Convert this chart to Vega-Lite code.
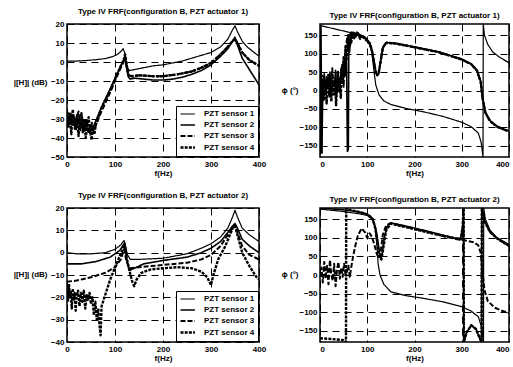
{
"$schema": "https://vega.github.io/schema/vega-lite/v6.json",
"background": "white",
"padding": {"left": 12, "top": 7, "right": 4, "bottom": 4},
"config": {
 "font": "Liberation Sans",
 "view": {"stroke": "black", "strokeWidth": 1.5},
 "axis": {"labelFont": "Liberation Sans", "labelFontSize": 8, "labelFontWeight": "bold", "labelColor": "black", "titleFont": "Liberation Sans", "titleFontSize": 8, "titleFontWeight": "bold", "titleColor": "black", "domain": false, "ticks": false, "grid": true, "gridColor": "black", "gridDash": [7, 5], "gridOpacity": 1, "gridWidth": 1, "labelPadding": 3, "labelOverlap": false, "labelFlush": false},
 "legend": {"orient": "bottom-right", "title": null, "offset": 1, "strokeColor": "black", "fillColor": "white", "padding": 3, "labelFont": "Liberation Sans", "labelFontSize": 8, "labelFontWeight": "bold", "labelColor": "black", "symbolSize": 64, "symbolStrokeColor": "black", "rowPadding": 2, "labelOffset": 14},
 "title": {"font": "Liberation Sans", "fontSize": 8, "fontWeight": "bold", "color": "black", "offset": 4, "frame": "group", "anchor": "middle"}
},
"datasets": {
 "tl": [
  {"s":"1","f":0,"v":0.5},{"s":"1","f":20,"v":0.5},{"s":"1","f":40,"v":0.8},{"s":"1","f":60,"v":1.2},{"s":"1","f":80,"v":1.8},{"s":"1","f":95,"v":2.8},{"s":"1","f":105,"v":4},{"s":"1","f":112,"v":5.5},{"s":"1","f":117,"v":7},{"s":"1","f":120,"v":5},{"s":"1","f":123,"v":1},{"s":"1","f":126,"v":-3},{"s":"1","f":130,"v":-4.5},{"s":"1","f":140,"v":-4},{"s":"1","f":160,"v":-3},{"s":"1","f":180,"v":-2},{"s":"1","f":200,"v":-1.5},{"s":"1","f":220,"v":-0.5},{"s":"1","f":240,"v":0.5},{"s":"1","f":260,"v":2},{"s":"1","f":280,"v":3.5},{"s":"1","f":300,"v":5},{"s":"1","f":320,"v":8},{"s":"1","f":335,"v":12},{"s":"1","f":345,"v":17},{"s":"1","f":350,"v":19},{"s":"1","f":355,"v":16},{"s":"1","f":365,"v":11},{"s":"1","f":375,"v":8},{"s":"1","f":390,"v":5},{"s":"1","f":400,"v":3},
  {"s":"2","f":0,"v":-28},{"s":"2","f":4,"v":-31},{"s":"2","f":8,"v":-27},{"s":"2","f":12,"v":-33},{"s":"2","f":16,"v":-29},{"s":"2","f":20,"v":-34},{"s":"2","f":24,"v":-30},{"s":"2","f":28,"v":-36},{"s":"2","f":32,"v":-31},{"s":"2","f":36,"v":-35},{"s":"2","f":40,"v":-32},{"s":"2","f":44,"v":-37},{"s":"2","f":48,"v":-33},{"s":"2","f":52,"v":-36},{"s":"2","f":55,"v":-34},{"s":"2","f":70,"v":-25},{"s":"2","f":90,"v":-14},{"s":"2","f":105,"v":-6},{"s":"2","f":114,"v":-1},{"s":"2","f":118,"v":1},{"s":"2","f":121,"v":2},{"s":"2","f":124,"v":-3},{"s":"2","f":128,"v":-8},{"s":"2","f":132,"v":-9},{"s":"2","f":140,"v":-8.5},{"s":"2","f":160,"v":-9},{"s":"2","f":180,"v":-9.5},{"s":"2","f":200,"v":-9.5},{"s":"2","f":220,"v":-9},{"s":"2","f":240,"v":-8},{"s":"2","f":260,"v":-6.5},{"s":"2","f":280,"v":-4.5},{"s":"2","f":300,"v":-1.5},{"s":"2","f":320,"v":3},{"s":"2","f":335,"v":7},{"s":"2","f":345,"v":11},{"s":"2","f":350,"v":13},{"s":"2","f":355,"v":9},{"s":"2","f":365,"v":2},{"s":"2","f":375,"v":-2},{"s":"2","f":390,"v":-8},{"s":"2","f":400,"v":-12},
  {"s":"3","f":0,"v":-31},{"s":"3","f":4,"v":-27},{"s":"3","f":8,"v":-33},{"s":"3","f":12,"v":-28},{"s":"3","f":16,"v":-35},{"s":"3","f":20,"v":-30},{"s":"3","f":24,"v":-26},{"s":"3","f":28,"v":-33},{"s":"3","f":32,"v":-29},{"s":"3","f":36,"v":-37},{"s":"3","f":40,"v":-30},{"s":"3","f":44,"v":-34},{"s":"3","f":48,"v":-38},{"s":"3","f":52,"v":-32},{"s":"3","f":56,"v":-36},{"s":"3","f":70,"v":-27},{"s":"3","f":90,"v":-16},{"s":"3","f":105,"v":-7},{"s":"3","f":114,"v":-2},{"s":"3","f":118,"v":0},{"s":"3","f":121,"v":3},{"s":"3","f":124,"v":-2},{"s":"3","f":128,"v":-7},{"s":"3","f":135,"v":-7.5},{"s":"3","f":150,"v":-7},{"s":"3","f":180,"v":-7.5},{"s":"3","f":200,"v":-7.5},{"s":"3","f":230,"v":-6.5},{"s":"3","f":260,"v":-5},{"s":"3","f":280,"v":-3},{"s":"3","f":300,"v":-0.5},{"s":"3","f":320,"v":4},{"s":"3","f":335,"v":8},{"s":"3","f":345,"v":11},{"s":"3","f":350,"v":12},{"s":"3","f":355,"v":10},{"s":"3","f":365,"v":5},{"s":"3","f":380,"v":1},{"s":"3","f":400,"v":-2},
  {"s":"4","f":0,"v":-26},{"s":"4","f":3,"v":-34},{"s":"4","f":6,"v":-29},{"s":"4","f":9,"v":-38},{"s":"4","f":12,"v":-25},{"s":"4","f":15,"v":-32},{"s":"4","f":18,"v":-36},{"s":"4","f":21,"v":-28},{"s":"4","f":24,"v":-39},{"s":"4","f":27,"v":-31},{"s":"4","f":30,"v":-27},{"s":"4","f":33,"v":-37},{"s":"4","f":36,"v":-30},{"s":"4","f":39,"v":-40},{"s":"4","f":42,"v":-33},{"s":"4","f":45,"v":-29},{"s":"4","f":48,"v":-36},{"s":"4","f":51,"v":-41},{"s":"4","f":54,"v":-35},{"s":"4","f":57,"v":-38},{"s":"4","f":60,"v":-33},{"s":"4","f":72,"v":-24},{"s":"4","f":90,"v":-15},{"s":"4","f":105,"v":-6},{"s":"4","f":114,"v":-1},{"s":"4","f":118,"v":1},{"s":"4","f":121,"v":4},{"s":"4","f":124,"v":-1},{"s":"4","f":128,"v":-7},{"s":"4","f":135,"v":-7.5},{"s":"4","f":150,"v":-7},{"s":"4","f":180,"v":-7.5},{"s":"4","f":200,"v":-7.5},{"s":"4","f":230,"v":-6.5},{"s":"4","f":260,"v":-5},{"s":"4","f":280,"v":-3},{"s":"4","f":300,"v":-0.5},{"s":"4","f":320,"v":4},{"s":"4","f":335,"v":8},{"s":"4","f":345,"v":11},{"s":"4","f":350,"v":12},{"s":"4","f":355,"v":10},{"s":"4","f":365,"v":5},{"s":"4","f":380,"v":1},{"s":"4","f":400,"v":-2}
 ],
 "tr": [
  {"s":"1","f":0,"v":176},{"s":"1","f":20,"v":170},{"s":"1","f":40,"v":164},{"s":"1","f":60,"v":158},{"s":"1","f":80,"v":150},{"s":"1","f":95,"v":140},{"s":"1","f":105,"v":125},{"s":"1","f":110,"v":100},{"s":"1","f":114,"v":55},{"s":"1","f":118,"v":15},{"s":"1","f":125,"v":-12},{"s":"1","f":135,"v":-28},{"s":"1","f":150,"v":-38},{"s":"1","f":180,"v":-48},{"s":"1","f":220,"v":-58},{"s":"1","f":260,"v":-70},{"s":"1","f":300,"v":-86},{"s":"1","f":320,"v":-98},{"s":"1","f":335,"v":-115},{"s":"1","f":341,"v":-140},{"s":"1","f":345,"v":-180},{"s":"1","f":345.5,"v":180},{"s":"1","f":348,"v":150},{"s":"1","f":355,"v":125},{"s":"1","f":365,"v":105},{"s":"1","f":380,"v":90},{"s":"1","f":400,"v":75},
  {"s":"2","f":0,"v":-175},{"s":"2","f":2,"v":175},{"s":"2","f":4,"v":-170},{"s":"2","f":6,"v":20},{"s":"2","f":9,"v":45},{"s":"2","f":12,"v":-10},{"s":"2","f":15,"v":30},{"s":"2","f":18,"v":5},{"s":"2","f":21,"v":50},{"s":"2","f":24,"v":-15},{"s":"2","f":27,"v":25},{"s":"2","f":30,"v":10},{"s":"2","f":33,"v":55},{"s":"2","f":36,"v":-5},{"s":"2","f":39,"v":35},{"s":"2","f":42,"v":15},{"s":"2","f":45,"v":60},{"s":"2","f":48,"v":20},{"s":"2","f":51,"v":80},{"s":"2","f":54,"v":40},{"s":"2","f":56,"v":110},{"s":"2","f":58,"v":-165},{"s":"2","f":60,"v":-160},{"s":"2","f":61,"v":140},{"s":"2","f":64,"v":120},{"s":"2","f":67,"v":155},{"s":"2","f":72,"v":140},{"s":"2","f":78,"v":158},{"s":"2","f":85,"v":150},{"s":"2","f":95,"v":145},{"s":"2","f":105,"v":130},{"s":"2","f":110,"v":110},{"s":"2","f":114,"v":80},{"s":"2","f":118,"v":50},{"s":"2","f":121,"v":40},{"s":"2","f":124,"v":45},{"s":"2","f":128,"v":75},{"s":"2","f":133,"v":115},{"s":"2","f":140,"v":130},{"s":"2","f":160,"v":128},{"s":"2","f":200,"v":118},{"s":"2","f":250,"v":105},{"s":"2","f":300,"v":85},{"s":"2","f":320,"v":72},{"s":"2","f":332,"v":55},{"s":"2","f":340,"v":25},{"s":"2","f":344,"v":-20},{"s":"2","f":350,"v":-60},{"s":"2","f":360,"v":-82},{"s":"2","f":375,"v":-97},{"s":"2","f":390,"v":-105},{"s":"2","f":400,"v":-110},
  {"s":"3","f":0,"v":170},{"s":"3","f":3,"v":-170},{"s":"3","f":5,"v":10},{"s":"3","f":8,"v":30},{"s":"3","f":11,"v":-5},{"s":"3","f":14,"v":40},{"s":"3","f":17,"v":15},{"s":"3","f":20,"v":-20},{"s":"3","f":23,"v":25},{"s":"3","f":26,"v":60},{"s":"3","f":29,"v":0},{"s":"3","f":32,"v":20},{"s":"3","f":35,"v":-10},{"s":"3","f":38,"v":45},{"s":"3","f":41,"v":5},{"s":"3","f":44,"v":30},{"s":"3","f":47,"v":70},{"s":"3","f":50,"v":10},{"s":"3","f":53,"v":100},{"s":"3","f":56,"v":130},{"s":"3","f":59,"v":150},{"s":"3","f":62,"v":100},{"s":"3","f":65,"v":160},{"s":"3","f":70,"v":145},{"s":"3","f":76,"v":155},{"s":"3","f":85,"v":148},{"s":"3","f":95,"v":143},{"s":"3","f":105,"v":128},{"s":"3","f":110,"v":108},{"s":"3","f":114,"v":78},{"s":"3","f":118,"v":50},{"s":"3","f":121,"v":42},{"s":"3","f":124,"v":46},{"s":"3","f":128,"v":77},{"s":"3","f":133,"v":116},{"s":"3","f":140,"v":129},{"s":"3","f":160,"v":127},{"s":"3","f":200,"v":117},{"s":"3","f":250,"v":104},{"s":"3","f":300,"v":84},{"s":"3","f":320,"v":71},{"s":"3","f":332,"v":54},{"s":"3","f":340,"v":24},{"s":"3","f":344,"v":-20},{"s":"3","f":350,"v":-60},{"s":"3","f":360,"v":-83},{"s":"3","f":375,"v":-98},{"s":"3","f":390,"v":-106},{"s":"3","f":400,"v":-111},
  {"s":"4","f":0,"v":15},{"s":"4","f":2,"v":-20},{"s":"4","f":4,"v":40},{"s":"4","f":6,"v":5},{"s":"4","f":8,"v":-25},{"s":"4","f":10,"v":30},{"s":"4","f":12,"v":0},{"s":"4","f":14,"v":-35},{"s":"4","f":16,"v":20},{"s":"4","f":18,"v":45},{"s":"4","f":20,"v":-10},{"s":"4","f":22,"v":15},{"s":"4","f":24,"v":-30},{"s":"4","f":26,"v":35},{"s":"4","f":28,"v":5},{"s":"4","f":30,"v":-15},{"s":"4","f":32,"v":25},{"s":"4","f":34,"v":-40},{"s":"4","f":36,"v":10},{"s":"4","f":38,"v":50},{"s":"4","f":40,"v":-5},{"s":"4","f":42,"v":20},{"s":"4","f":44,"v":-20},{"s":"4","f":46,"v":60},{"s":"4","f":48,"v":30},{"s":"4","f":50,"v":90},{"s":"4","f":52,"v":50},{"s":"4","f":54,"v":120},{"s":"4","f":56,"v":80},{"s":"4","f":58,"v":140},{"s":"4","f":60,"v":110},{"s":"4","f":63,"v":150},{"s":"4","f":66,"v":130},{"s":"4","f":70,"v":160},{"s":"4","f":75,"v":145},{"s":"4","f":80,"v":155},{"s":"4","f":85,"v":140},{"s":"4","f":90,"v":150},{"s":"4","f":95,"v":138},{"s":"4","f":100,"v":135},{"s":"4","f":105,"v":128},{"s":"4","f":110,"v":108},{"s":"4","f":114,"v":78},{"s":"4","f":118,"v":50},{"s":"4","f":121,"v":42},{"s":"4","f":124,"v":46},{"s":"4","f":128,"v":77},{"s":"4","f":133,"v":116},{"s":"4","f":140,"v":129},{"s":"4","f":160,"v":127},{"s":"4","f":200,"v":117},{"s":"4","f":250,"v":104},{"s":"4","f":300,"v":84},{"s":"4","f":320,"v":71},{"s":"4","f":332,"v":54},{"s":"4","f":340,"v":24},{"s":"4","f":344,"v":-20},{"s":"4","f":350,"v":-60},{"s":"4","f":360,"v":-83},{"s":"4","f":375,"v":-98},{"s":"4","f":390,"v":-106},{"s":"4","f":400,"v":-111}
 ],
 "bl": [
  {"s":"1","f":0,"v":0},{"s":"1","f":20,"v":-0.5},{"s":"1","f":50,"v":-0.5},{"s":"1","f":80,"v":0},{"s":"1","f":100,"v":1.5},{"s":"1","f":112,"v":3.5},{"s":"1","f":119,"v":5.5},{"s":"1","f":122,"v":3},{"s":"1","f":126,"v":-1},{"s":"1","f":132,"v":-3},{"s":"1","f":150,"v":-3},{"s":"1","f":200,"v":-2.5},{"s":"1","f":250,"v":-0.5},{"s":"1","f":280,"v":2},{"s":"1","f":300,"v":4},{"s":"1","f":320,"v":7},{"s":"1","f":335,"v":11},{"s":"1","f":345,"v":16},{"s":"1","f":350,"v":19},{"s":"1","f":355,"v":16},{"s":"1","f":365,"v":11},{"s":"1","f":380,"v":8},{"s":"1","f":400,"v":5},
  {"s":"2","f":0,"v":-5},{"s":"2","f":30,"v":-5},{"s":"2","f":60,"v":-4},{"s":"2","f":90,"v":-2},{"s":"2","f":110,"v":1},{"s":"2","f":119,"v":4},{"s":"2","f":122,"v":1},{"s":"2","f":126,"v":-5},{"s":"2","f":130,"v":-8},{"s":"2","f":140,"v":-7},{"s":"2","f":160,"v":-5},{"s":"2","f":200,"v":-3.5},{"s":"2","f":250,"v":-2},{"s":"2","f":280,"v":0},{"s":"2","f":300,"v":2},{"s":"2","f":320,"v":5},{"s":"2","f":335,"v":9},{"s":"2","f":345,"v":12},{"s":"2","f":350,"v":13},{"s":"2","f":355,"v":11},{"s":"2","f":365,"v":6},{"s":"2","f":380,"v":3},{"s":"2","f":400,"v":0},
  {"s":"3","f":0,"v":-13},{"s":"3","f":20,"v":-12.5},{"s":"3","f":50,"v":-11},{"s":"3","f":80,"v":-9},{"s":"3","f":100,"v":-6.5},{"s":"3","f":112,"v":-3},{"s":"3","f":119,"v":1.5},{"s":"3","f":123,"v":-3},{"s":"3","f":130,"v":-7},{"s":"3","f":150,"v":-6.5},{"s":"3","f":200,"v":-5.5},{"s":"3","f":250,"v":-4.5},{"s":"3","f":280,"v":-3},{"s":"3","f":300,"v":-1},{"s":"3","f":320,"v":3},{"s":"3","f":335,"v":8},{"s":"3","f":345,"v":11},{"s":"3","f":350,"v":12.5},{"s":"3","f":355,"v":9},{"s":"3","f":365,"v":3},{"s":"3","f":380,"v":-1},{"s":"3","f":400,"v":-3},
  {"s":"4","f":0,"v":-15},{"s":"4","f":2,"v":-22},{"s":"4","f":4,"v":-14},{"s":"4","f":6,"v":-20},{"s":"4","f":8,"v":-17},{"s":"4","f":10,"v":-25},{"s":"4","f":12,"v":-16},{"s":"4","f":14,"v":-21},{"s":"4","f":16,"v":-18},{"s":"4","f":18,"v":-26},{"s":"4","f":20,"v":-19},{"s":"4","f":23,"v":-17},{"s":"4","f":26,"v":-24},{"s":"4","f":29,"v":-18},{"s":"4","f":32,"v":-22},{"s":"4","f":35,"v":-17},{"s":"4","f":38,"v":-25},{"s":"4","f":41,"v":-19},{"s":"4","f":44,"v":-21},{"s":"4","f":47,"v":-18},{"s":"4","f":50,"v":-23},{"s":"4","f":53,"v":-20},{"s":"4","f":56,"v":-28},{"s":"4","f":59,"v":-22},{"s":"4","f":62,"v":-30},{"s":"4","f":65,"v":-25},{"s":"4","f":68,"v":-33},{"s":"4","f":70,"v":-37},{"s":"4","f":72,"v":-24},{"s":"4","f":78,"v":-20},{"s":"4","f":90,"v":-12},{"s":"4","f":105,"v":-4},{"s":"4","f":115,"v":1},{"s":"4","f":120,"v":4},{"s":"4","f":124,"v":-2},{"s":"4","f":130,"v":-8},{"s":"4","f":136,"v":-13},{"s":"4","f":140,"v":-15},{"s":"4","f":145,"v":-12},{"s":"4","f":155,"v":-9},{"s":"4","f":175,"v":-7.5},{"s":"4","f":200,"v":-7},{"s":"4","f":230,"v":-6.5},{"s":"4","f":260,"v":-7},{"s":"4","f":280,"v":-8.5},{"s":"4","f":292,"v":-11},{"s":"4","f":300,"v":-14.5},{"s":"4","f":305,"v":-10},{"s":"4","f":315,"v":-3},{"s":"4","f":330,"v":3},{"s":"4","f":345,"v":11},{"s":"4","f":350,"v":12},{"s":"4","f":355,"v":8},{"s":"4","f":365,"v":0},{"s":"4","f":380,"v":-6},{"s":"4","f":395,"v":-11},{"s":"4","f":400,"v":-12}
 ],
 "br": [
  {"s":"1","f":0,"v":177},{"s":"1","f":40,"v":172},{"s":"1","f":80,"v":165},{"s":"1","f":100,"v":160},{"s":"1","f":110,"v":150},{"s":"1","f":116,"v":130},{"s":"1","f":120,"v":90},{"s":"1","f":123,"v":30},{"s":"1","f":127,"v":0},{"s":"1","f":135,"v":-25},{"s":"1","f":150,"v":-45},{"s":"1","f":180,"v":-55},{"s":"1","f":220,"v":-63},{"s":"1","f":260,"v":-72},{"s":"1","f":300,"v":-85},{"s":"1","f":320,"v":-97},{"s":"1","f":335,"v":-112},{"s":"1","f":342,"v":-140},{"s":"1","f":346,"v":-180},{"s":"1","f":346.5,"v":180},{"s":"1","f":350,"v":150},{"s":"1","f":360,"v":120},{"s":"1","f":375,"v":100},{"s":"1","f":400,"v":82},
  {"s":"2","f":0,"v":180},{"s":"2","f":30,"v":177},{"s":"2","f":60,"v":174},{"s":"2","f":90,"v":168},{"s":"2","f":105,"v":160},{"s":"2","f":112,"v":150},{"s":"2","f":118,"v":125},{"s":"2","f":122,"v":95},{"s":"2","f":126,"v":60},{"s":"2","f":129,"v":45},{"s":"2","f":132,"v":60},{"s":"2","f":136,"v":100},{"s":"2","f":142,"v":130},{"s":"2","f":150,"v":140},{"s":"2","f":180,"v":132},{"s":"2","f":220,"v":120},{"s":"2","f":260,"v":107},{"s":"2","f":290,"v":97},{"s":"2","f":298,"v":100},{"s":"2","f":302,"v":130},{"s":"2","f":304,"v":180},{"s":"2","f":304.5,"v":-180},{"s":"2","f":310,"v":-155},{"s":"2","f":320,"v":-135},{"s":"2","f":330,"v":-145},{"s":"2","f":338,"v":-170},{"s":"2","f":342,"v":-180},{"s":"2","f":342.5,"v":180},{"s":"2","f":348,"v":145},{"s":"2","f":360,"v":115},{"s":"2","f":375,"v":98},{"s":"2","f":400,"v":78},
  {"s":"3","f":0,"v":-5},{"s":"3","f":3,"v":20},{"s":"3","f":6,"v":-20},{"s":"3","f":9,"v":35},{"s":"3","f":12,"v":-10},{"s":"3","f":15,"v":25},{"s":"3","f":18,"v":-25},{"s":"3","f":21,"v":40},{"s":"3","f":24,"v":0},{"s":"3","f":27,"v":-15},{"s":"3","f":30,"v":30},{"s":"3","f":33,"v":-30},{"s":"3","f":36,"v":15},{"s":"3","f":39,"v":35},{"s":"3","f":42,"v":-10},{"s":"3","f":45,"v":20},{"s":"3","f":48,"v":-5},{"s":"3","f":51,"v":30},{"s":"3","f":54,"v":0},{"s":"3","f":57,"v":10},{"s":"3","f":60,"v":25},{"s":"3","f":63,"v":-5},{"s":"3","f":66,"v":20},{"s":"3","f":70,"v":50},{"s":"3","f":75,"v":80},{"s":"3","f":80,"v":105},{"s":"3","f":88,"v":125},{"s":"3","f":95,"v":115},{"s":"3","f":100,"v":100},{"s":"3","f":105,"v":112},{"s":"3","f":110,"v":102},{"s":"3","f":115,"v":82},{"s":"3","f":120,"v":58},{"s":"3","f":124,"v":45},{"s":"3","f":128,"v":58},{"s":"3","f":133,"v":108},{"s":"3","f":140,"v":133},{"s":"3","f":150,"v":140},{"s":"3","f":180,"v":130},{"s":"3","f":220,"v":118},{"s":"3","f":260,"v":105},{"s":"3","f":290,"v":96},{"s":"3","f":310,"v":92},{"s":"3","f":325,"v":88},{"s":"3","f":335,"v":80},{"s":"3","f":340,"v":60},{"s":"3","f":344,"v":10},{"s":"3","f":348,"v":-40},{"s":"3","f":355,"v":-70},{"s":"3","f":370,"v":-88},{"s":"3","f":385,"v":-96},{"s":"3","f":400,"v":-102},
  {"s":"4","f":0,"v":-170},{"s":"4","f":25,"v":-172},{"s":"4","f":50,"v":-175},{"s":"4","f":54,"v":-178},{"s":"4","f":55,"v":-180},{"s":"4","f":55.5,"v":180},{"s":"4","f":58,"v":176},{"s":"4","f":80,"v":170},{"s":"4","f":100,"v":163},{"s":"4","f":112,"v":150},{"s":"4","f":118,"v":120},{"s":"4","f":122,"v":80},{"s":"4","f":126,"v":45},{"s":"4","f":130,"v":42},{"s":"4","f":135,"v":80},{"s":"4","f":140,"v":120},{"s":"4","f":150,"v":138},{"s":"4","f":200,"v":123},{"s":"4","f":250,"v":108},{"s":"4","f":298,"v":96},{"s":"4","f":302,"v":130},{"s":"4","f":304,"v":180},{"s":"4","f":304.5,"v":-180},{"s":"4","f":310,"v":-155},{"s":"4","f":320,"v":-135},{"s":"4","f":330,"v":-145},{"s":"4","f":338,"v":-170},{"s":"4","f":342,"v":-180},{"s":"4","f":342.5,"v":180},{"s":"4","f":348,"v":145},{"s":"4","f":360,"v":115},{"s":"4","f":375,"v":98},{"s":"4","f":400,"v":78}
 ]
},
"columns": 2,
"spacing": {"row": 51, "column": 61},
"bounds": "flush",
"resolve": {"scale": {"x": "independent", "y": "independent", "strokeDash": "independent", "strokeWidth": "independent"}, "legend": {"strokeDash": "independent", "strokeWidth": "independent"}},
"concat": [
 {
  "title": {"text": "Type IV FRF(configuration B, PZT actuator 1)"},
  "width": 192, "height": 133,
  "data": {"name": "tl"},
  "mark": {"type": "line", "color": "black", "clip": true, "strokeJoin": "round"},
  "encoding": {
   "x": {"field": "f", "type": "quantitative", "scale": {"domain": [0, 400], "nice": false}, "axis": {"values": [0, 100, 200, 300, 400], "title": "f(Hz)", "titlePadding": 1}},
   "y": {"field": "v", "type": "quantitative", "scale": {"domain": [-50, 20], "nice": false}, "axis": {"values": [20, 10, 0, -10, -20, -30, -40, -50], "title": "|[H]| (dB)", "titleAngle": 0, "titleAlign": "right", "titleBaseline": "middle", "titleX": -20, "titleY": 58}},
   "strokeDash": {"field": "s", "type": "nominal", "scale": {"domain": ["1", "2", "3", "4"], "range": [[1, 0], [1, 0], [5, 2], [3, 1.2]]}, "legend": {"labelExpr": "'PZT sensor ' + datum.label", "symbolType": "M-1,0H2.6"}},
   "strokeWidth": {"field": "s", "type": "nominal", "scale": {"domain": ["1", "2", "3", "4"], "range": [1.2, 2.4, 2, 2]}, "legend": {"labelExpr": "'PZT sensor ' + datum.label", "symbolType": "M-1,0H2.6"}}
  }
 },
 {
  "title": {"text": "Type IV FRF(configuration B, PZT actuator 1)"},
  "width": 189, "height": 133,
  "data": {"name": "tr"},
  "mark": {"type": "line", "color": "black", "clip": true, "strokeJoin": "round"},
  "encoding": {
   "x": {"field": "f", "type": "quantitative", "scale": {"domain": [0, 400], "nice": false}, "axis": {"values": [0, 100, 200, 300, 400], "title": "f(Hz)", "titlePadding": 1, "labelFlush": true}},
   "y": {"field": "v", "type": "quantitative", "scale": {"domain": [-180, 180], "nice": false}, "axis": {"values": [150, 100, 50, 0, -50, -100, -150], "title": "ϕ (°)", "titleAngle": 0, "titleAlign": "right", "titleBaseline": "middle", "titleX": -22, "titleY": 66}},
   "strokeDash": {"field": "s", "type": "nominal", "scale": {"domain": ["1", "2", "3", "4"], "range": [[1, 0], [1, 0], [5, 2], [3, 1.2]]}, "legend": null},
   "strokeWidth": {"field": "s", "type": "nominal", "scale": {"domain": ["1", "2", "3", "4"], "range": [1.2, 2.4, 2, 2]}, "legend": null}
  }
 },
 {
  "title": {"text": "Type IV FRF(configuration B, PZT actuator 2)"},
  "width": 192, "height": 134,
  "data": {"name": "bl"},
  "mark": {"type": "line", "color": "black", "clip": true, "strokeJoin": "round"},
  "encoding": {
   "x": {"field": "f", "type": "quantitative", "scale": {"domain": [0, 400], "nice": false}, "axis": {"values": [0, 100, 200, 300, 400], "title": "f(Hz)", "titlePadding": 1}},
   "y": {"field": "v", "type": "quantitative", "scale": {"domain": [-40, 20], "nice": false}, "axis": {"values": [20, 10, 0, -10, -20, -30, -40], "title": "|[H]| (dB)", "titleAngle": 0, "titleAlign": "right", "titleBaseline": "middle", "titleX": -20, "titleY": 66}},
   "strokeDash": {"field": "s", "type": "nominal", "scale": {"domain": ["1", "2", "3", "4"], "range": [[1, 0], [1, 0], [5, 2], [3, 1.2]]}, "legend": {"labelExpr": "'PZT sensor ' + datum.label", "symbolType": "M-1,0H2.6"}},
   "strokeWidth": {"field": "s", "type": "nominal", "scale": {"domain": ["1", "2", "3", "4"], "range": [1.2, 2.4, 2, 2]}, "legend": {"labelExpr": "'PZT sensor ' + datum.label", "symbolType": "M-1,0H2.6"}}
  }
 },
 {
  "title": {"text": "Type IV FRF(configuration B, PZT actuator 2)"},
  "width": 189, "height": 134,
  "data": {"name": "br"},
  "mark": {"type": "line", "color": "black", "clip": true, "strokeJoin": "round"},
  "encoding": {
   "x": {"field": "f", "type": "quantitative", "scale": {"domain": [0, 400], "nice": false}, "axis": {"values": [0, 100, 200, 300, 400], "title": "f(Hz)", "titlePadding": 1, "labelFlush": true}},
   "y": {"field": "v", "type": "quantitative", "scale": {"domain": [-180, 180], "nice": false}, "axis": {"values": [150, 100, 50, 0, -50, -100, -150], "title": "ϕ (°)", "titleAngle": 0, "titleAlign": "right", "titleBaseline": "middle", "titleX": -22, "titleY": 66}},
   "strokeDash": {"field": "s", "type": "nominal", "scale": {"domain": ["1", "2", "3", "4"], "range": [[1, 0], [1, 0], [5, 2], [3, 1.2]]}, "legend": null},
   "strokeWidth": {"field": "s", "type": "nominal", "scale": {"domain": ["1", "2", "3", "4"], "range": [1.2, 2.4, 2, 2]}, "legend": null}
  }
 }
]
}
